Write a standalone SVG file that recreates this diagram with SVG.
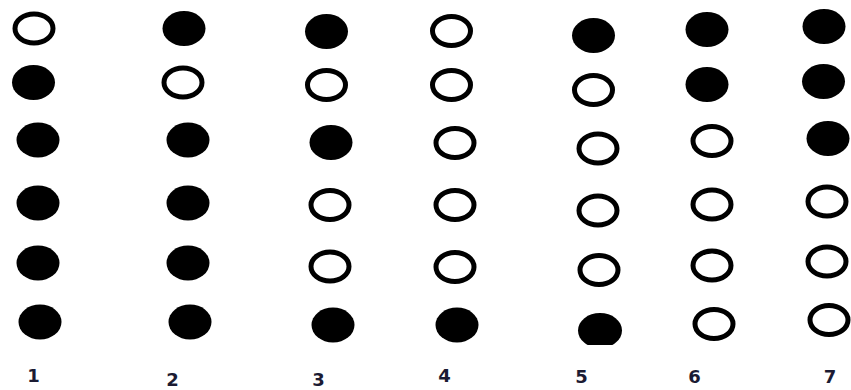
<svg xmlns="http://www.w3.org/2000/svg" width="851" height="390" viewBox="0 0 851 390">
<style>
.f{fill:#000}
.o{fill:#fff;stroke:#000;stroke-width:5}
.l{font-family:"DejaVu Sans",sans-serif;font-weight:bold;font-size:18px;fill:#1b1b33;text-anchor:middle}
</style>
<defs>
<clipPath id="cut"><rect x="560" y="300" width="80" height="45"/></clipPath>
</defs>
<rect width="851" height="390" fill="#fff"/>
<g id="col1">
<ellipse class="o" cx="34" cy="28.5" rx="19" ry="14.5"/>
<ellipse class="f" cx="33.5" cy="82.5" rx="21.5" ry="17.5"/>
<ellipse class="f" cx="38" cy="140" rx="21.5" ry="17.5"/>
<ellipse class="f" cx="38" cy="203" rx="21.5" ry="17.5"/>
<ellipse class="f" cx="38" cy="263" rx="21.5" ry="17.5"/>
<ellipse class="f" cx="40" cy="322" rx="21.5" ry="17.5"/>
<text class="l" x="33.5" y="382">1</text>
</g>
<g id="col2">
<ellipse class="f" cx="184" cy="28.5" rx="21.5" ry="17.5"/>
<ellipse class="o" cx="183" cy="82.5" rx="19" ry="14.5"/>
<ellipse class="f" cx="188" cy="140" rx="21.5" ry="17.5"/>
<ellipse class="f" cx="188" cy="203" rx="21.5" ry="17.5"/>
<ellipse class="f" cx="188" cy="263" rx="21.5" ry="17.5"/>
<ellipse class="f" cx="190" cy="322" rx="21.5" ry="17.5"/>
<text class="l" x="172.5" y="385.5">2</text>
</g>
<g id="col3">
<ellipse class="f" cx="326.5" cy="31.5" rx="21.5" ry="17.5"/>
<ellipse class="o" cx="326.5" cy="85" rx="19" ry="14.5"/>
<ellipse class="f" cx="331" cy="142.5" rx="21.5" ry="17.5"/>
<ellipse class="o" cx="330" cy="205" rx="19" ry="14.5"/>
<ellipse class="o" cx="330" cy="266.5" rx="19" ry="14.5"/>
<ellipse class="f" cx="333" cy="325" rx="21.5" ry="17.5"/>
<text class="l" x="318.5" y="385.5">3</text>
</g>
<g id="col4">
<ellipse class="o" cx="451.5" cy="31" rx="19" ry="14.5"/>
<ellipse class="o" cx="451.5" cy="85" rx="19" ry="14.5"/>
<ellipse class="o" cx="455" cy="143" rx="19" ry="14.5"/>
<ellipse class="o" cx="455" cy="205" rx="19" ry="14.5"/>
<ellipse class="o" cx="455" cy="267" rx="19" ry="14.5"/>
<ellipse class="f" cx="457" cy="325" rx="21.5" ry="17.5"/>
<text class="l" x="444.5" y="382">4</text>
</g>
<g id="col5">
<ellipse class="f" cx="593.5" cy="35.5" rx="21.5" ry="17.5"/>
<ellipse class="o" cx="593.5" cy="90" rx="19" ry="14.5"/>
<ellipse class="o" cx="598" cy="148.5" rx="19" ry="14.5"/>
<ellipse class="o" cx="598" cy="210.5" rx="19" ry="14.5"/>
<ellipse class="o" cx="599" cy="270" rx="19" ry="14.5"/>
<ellipse class="f" cx="600" cy="330.5" rx="22" ry="17.5" clip-path="url(#cut)"/>
<text class="l" x="581.5" y="383">5</text>
</g>
<g id="col6">
<ellipse class="f" cx="707" cy="29.5" rx="21.5" ry="17.5"/>
<ellipse class="f" cx="707" cy="84.5" rx="21.5" ry="17.5"/>
<ellipse class="o" cx="712" cy="141" rx="19" ry="14.5"/>
<ellipse class="o" cx="712" cy="204.5" rx="19" ry="14.5"/>
<ellipse class="o" cx="712" cy="265.5" rx="19" ry="14.5"/>
<ellipse class="o" cx="714" cy="324" rx="19" ry="14.5"/>
<text class="l" x="694.5" y="383">6</text>
</g>
<g id="col7">
<ellipse class="f" cx="824" cy="26.5" rx="21.5" ry="17.5"/>
<ellipse class="f" cx="823.5" cy="81.5" rx="21.5" ry="17.5"/>
<ellipse class="f" cx="828" cy="138.5" rx="21.5" ry="17.5"/>
<ellipse class="o" cx="827" cy="201.5" rx="19" ry="14.5"/>
<ellipse class="o" cx="827" cy="261.5" rx="19" ry="14.5"/>
<ellipse class="o" cx="829" cy="320" rx="19" ry="14.5"/>
<text class="l" x="830" y="383">7</text>
</g>
</svg>
